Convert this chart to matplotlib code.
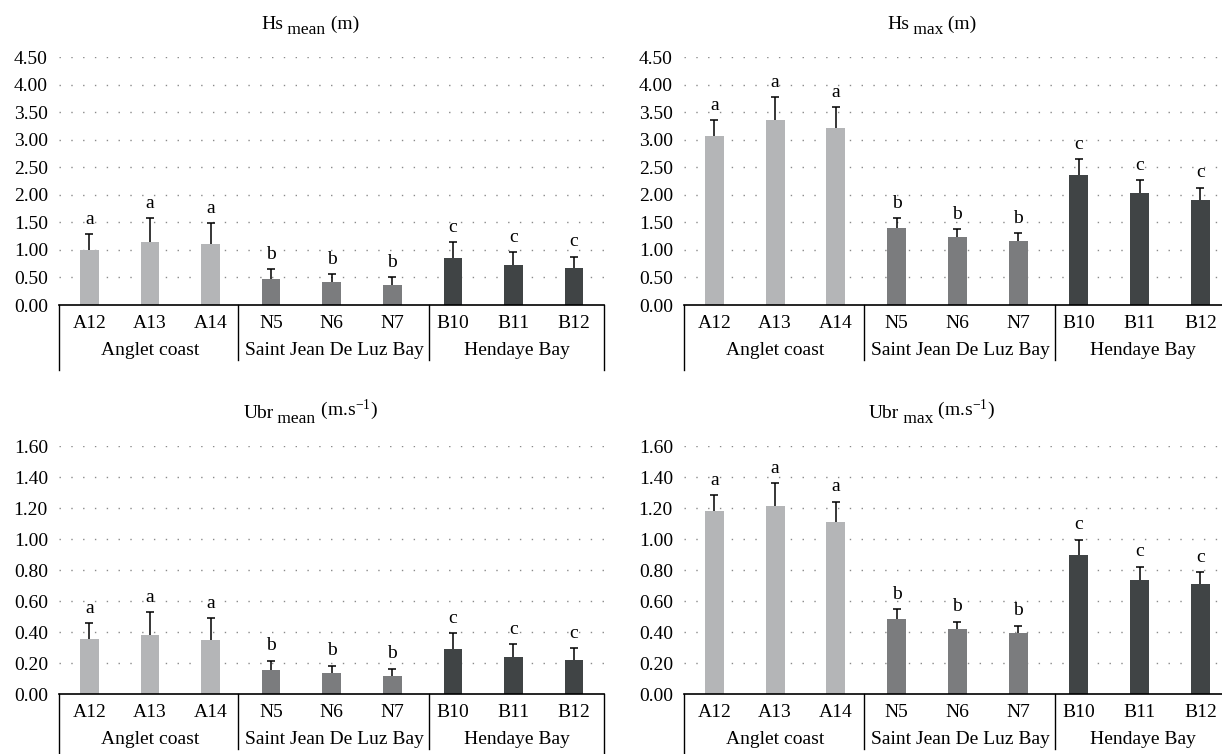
import numpy as np
import matplotlib
matplotlib.use("Agg")
import matplotlib.pyplot as plt
from matplotlib.transforms import blended_transform_factory

plt.rcParams['font.family'] = ['Liberation Serif', 'DejaVu Serif']
plt.rcParams['mathtext.fontset'] = 'custom'
plt.rcParams['mathtext.rm'] = 'Liberation Serif'
plt.rcParams['mathtext.it'] = 'Liberation Serif:italic'
plt.rcParams['mathtext.bf'] = 'Liberation Serif:bold'

# --- data ---
sites = ["A12", "A13", "A14", "N5", "N6", "N7", "B10", "B11", "B12"]
groups = ["Anglet coast", "Saint Jean De Luz Bay", "Hendaye Bay"]
letters = ["a", "a", "a", "b", "b", "b", "c", "c", "c"]

hs_mean = [0.99, 1.15, 1.11, 0.48, 0.42, 0.37, 0.86, 0.73, 0.67]
hs_mean_sd = [0.29, 0.43, 0.38, 0.17, 0.14, 0.14, 0.28, 0.23, 0.21]

hs_max = [3.07, 3.36, 3.21, 1.40, 1.23, 1.17, 2.36, 2.03, 1.90]
hs_max_sd = [0.29, 0.41, 0.38, 0.18, 0.14, 0.14, 0.29, 0.23, 0.23]

ubr_mean = [0.36, 0.385, 0.35, 0.157, 0.138, 0.118, 0.292, 0.241, 0.222]
ubr_mean_sd = [0.10, 0.145, 0.14, 0.06, 0.047, 0.048, 0.104, 0.084, 0.078]

ubr_max = [1.183, 1.213, 1.112, 0.484, 0.421, 0.396, 0.897, 0.738, 0.712]
ubr_max_sd = [0.103, 0.148, 0.131, 0.064, 0.048, 0.047, 0.101, 0.086, 0.075]

colors = ["#b4b5b7"] * 3 + ["#7b7c7e"] * 3 + ["#404445"] * 3

W, H = 1222, 754
fig = plt.figure(figsize=(W / 100, H / 100), dpi=100)

ax_h = 248  # axes height in px


def make_axes(left_px, top_px, width_px):
    return fig.add_axes([left_px / W, (H - top_px - ax_h) / H, width_px / W, ax_h / H])


def panel(ax, vals, sd, ymax, step, name, sub, unit, title_x):
    x = np.arange(len(sites))
    ax.bar(x, vals, width=0.31, color=colors, zorder=3)
    eb = ax.errorbar(x, vals, yerr=[np.zeros(len(sd)), sd], fmt='none', ecolor='black',
                     elinewidth=1.1, capsize=3, capthick=1.1, zorder=4)
    eb.lines[1][0].set_visible(False)  # no cap at bar top

    for xi, v, s, let in zip(x, vals, sd, letters):
        ax.annotate(let, (xi, v + s), xytext=(0, 4.5), textcoords='offset points',
                    ha='center', va='bottom', fontsize=14)

    ax.set_xlim(-0.5, 8.5)
    ax.set_ylim(0, ymax)
    ticks = np.arange(0, ymax + step / 2, step)
    ax.set_yticks(ticks)
    ax.set_yticklabels([f"{t:.2f}" for t in ticks], fontsize=14)
    ax.tick_params(axis='y', length=0, pad=8)
    ax.set_xticks([])
    for t in ticks[1:]:
        ax.axhline(t, color='#8a8a8a', lw=1.0, ls=(0, (1, 7.5)), zorder=1)
    for s in ['top', 'right', 'left']:
        ax.spines[s].set_visible(False)
    ax.spines['bottom'].set_linewidth(1.2)
    ax.spines['bottom'].set_zorder(5)

    tr = blended_transform_factory(ax.transData, ax.transAxes)
    for xi, lab in zip(x, sites):
        ax.text(xi, -18 / ax_h, lab, transform=tr, ha='center', va='center', fontsize=14)
    for gx, g in zip([1.0, 4.05, 7.06], groups):
        ax.text(gx, -45 / ax_h, g, transform=tr, ha='center', va='center', fontsize=14)
    for sx, depth in [(-0.5, 65), (2.46, 55), (5.61, 55), (8.5, 65)]:
        ax.plot([sx, sx], [0, -depth / ax_h], color='black', lw=1.0, transform=tr, clip_on=False)

    # title pieces: name, lowered subscript, unit
    t1 = ax.text(title_x, 1 + 28 / ax_h, name, transform=tr, ha='left', va='baseline', fontsize=14)
    t2 = ax.annotate(" " + sub, xy=(1, 0), xycoords=t1, xytext=(0, -3.5), textcoords='offset points',
                     ha='left', va='bottom', fontsize=12.5)
    ax.annotate(" " + unit, xy=(1, 0), xycoords=t2, xytext=(0, 3.5), textcoords='offset points',
                ha='left', va='bottom', fontsize=14)


ax1 = make_axes(59, 57, 545.4)
panel(ax1, hs_mean, hs_mean_sd, 4.5, 0.5, "Hs", "mean", "(m)", 2.84)

ax2 = make_axes(684, 57, 546.75)
panel(ax2, hs_max, hs_max_sd, 4.5, 0.5, "Hs", "max", "(m)", 2.84)

ax3 = make_axes(59, 446.3, 545.4)
panel(ax3, ubr_mean, ubr_mean_sd, 1.6, 0.2, "Ubr", "mean", r"(m.s$^{-1}$)", 2.54)

ax4 = make_axes(684, 446.3, 546.75)
panel(ax4, ubr_max, ubr_max_sd, 1.6, 0.2, "Ubr", "max", r"(m.s$^{-1}$)", 2.54)

fig.savefig("out.png", dpi=100)
